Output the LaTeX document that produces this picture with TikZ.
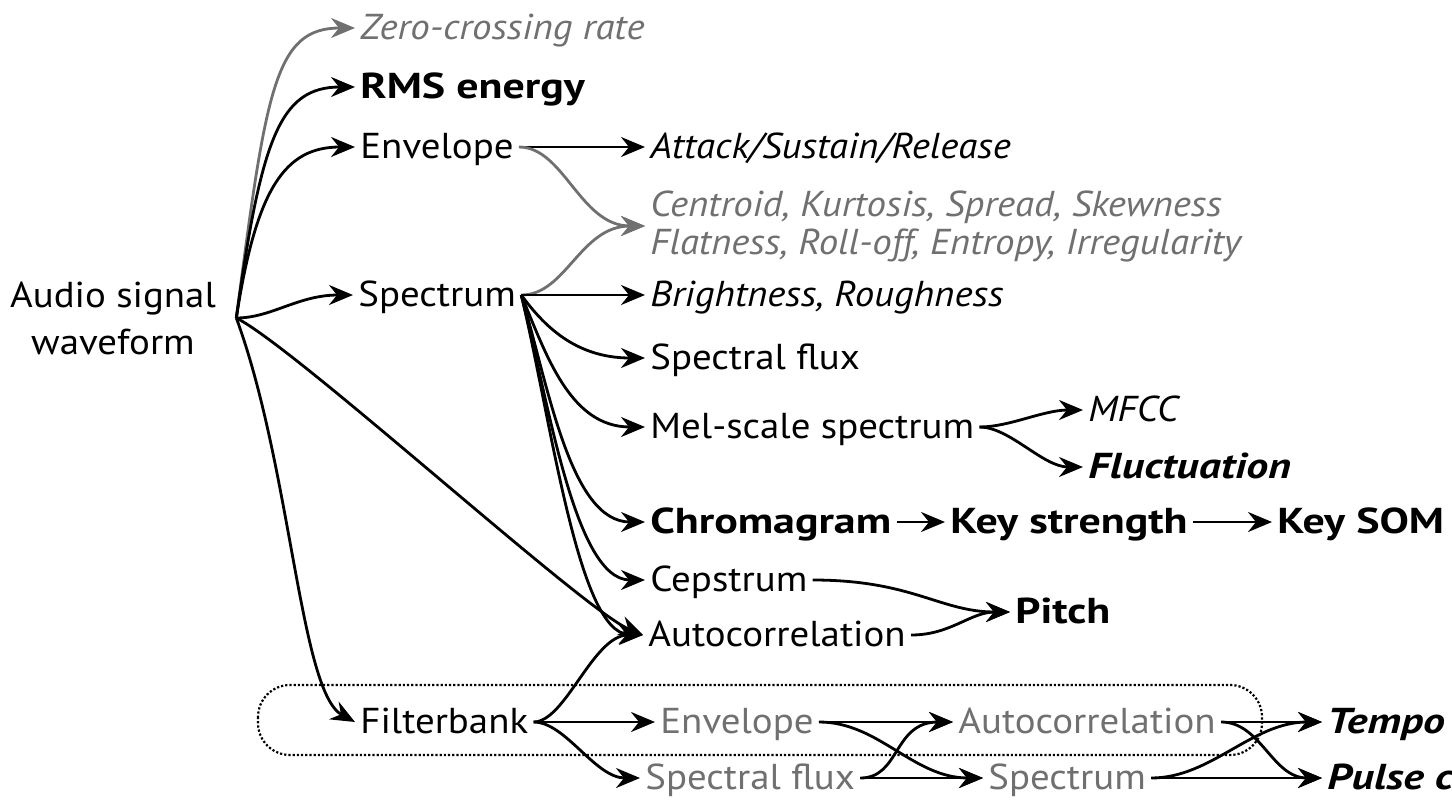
\documentclass[tikz,border=0pt]{standalone}
\usepackage{fontspec}
\setmainfont{PT Sans}[UprightFeatures={FakeStretch=1.08},ItalicFeatures={FakeStretch=1.08},BoldFeatures={FakeStretch=1.22},BoldItalicFeatures={FakeStretch=1.22}]
\usepackage{tikz}
\usetikzlibrary{positioning,arrows.meta}
\definecolor{fadegray}{RGB}{112,112,112}

\begin{document}
\begin{tikzpicture}[x=0.5pt,y=-0.5pt,
	every node/.style={anchor=west,inner sep=2.5pt,text height=15.3pt,text depth=3.6pt,font=\fontsize{18}{23.5}\selectfont},
	strong/.style={font=\fontsize{18}{23.5}\selectfont\bfseries},
	ital/.style={font=\fontsize{18}{23.5}\selectfont\itshape},
	boldital/.style={font=\fontsize{18}{23.5}\selectfont\bfseries\itshape},
	faded/.style={text=fadegray},
	link/.style={line width=1.4pt,-{Stealth[length=12pt,width=10pt,inset=4pt]}},
	fadelink/.style={link,draw=fadegray},
	group/.style={densely dotted,line width=1.1pt,rounded corners=16pt}]
		\path[use as bounding box,clip] (0,0) rectangle (1452,803);

		%filterbank group
		\draw[group] (258,685) rectangle (1262,755);

		%source node
		\node[anchor=center,align=center,inner xsep=10pt,text height=,text depth=] (n1) at (113,318) {Audio signal\\waveform};

		%first level nodes
		\node[faded,ital] (n2) at (355,28) {Zero-crossing rate};
		\node[strong] (n3) at (355,87) {RMS energy};
		\node (n4) at (355,147) {Envelope};
		\node (n5) at (353,295) {Spectrum};
		\node (n6) at (355,722) {Filterbank};

		%second level nodes
		\node[ital] (n7) at (645,147) {Attack/Sustain/Release};
		\node[faded,align=left,text height=,text depth=,font=\fontsize{18}{19}\selectfont\itshape] (n8) at (645,226) {Centroid, Kurtosis, Spread, Skewness\\Flatness, Roll-off, Entropy, Irregularity};
		\node[ital] (n9) at (645,295) {Brightness, Roughness};
		\node (n10) at (645,358) {Spectral flux};
		\node (n11) at (645,427) {Mel-scale spectrum};
		\node[strong] (n12) at (645,522) {Chromagram};
		\node (n13) at (645,580) {Cepstrum};
		\node (n14) at (643,635) {Autocorrelation};

		%third level nodes
		\node[ital] (n15) at (1083,410) {MFCC};
		\node[boldital] (n16) at (1083,467) {Fluctuation};
		\node[strong] (n17) at (945,522) {Key strength};
		\node[strong] (n18) at (1272,522) {Key SOM};
		\node[strong] (n19) at (1010,612) {Pitch};

		%filterbank nodes
		\node[faded] (n20) at (655,722) {Envelope};
		\node[faded] (n21) at (640,778) {Spectral flux};
		\node[faded] (n22) at (953,722) {Autocorrelation};
		\node[faded] (n23) at (983,778) {Spectrum};
		\node[boldital] (n24) at (1322,722) {Tempo};
		\node[boldital] (n25) at (1322,778) {Pulse clarity};

		%edges from the waveform
		\draw[fadelink] (n1.east) .. controls +(30,-230) and +(-80,0) .. (n2.west);
		\draw[link] (n1.east) .. controls +(25,-180) and +(-75,0) .. (n3.west);
		\draw[link] (n1.east) .. controls +(20,-130) and +(-70,0) .. (n4.west);
		\draw[link] (n1.east) .. controls +(35,0) and +(-55,0) .. (n5.west);
		\draw[link] (n1.east) .. controls +(55,150) and +(-55,-30) .. (n6.west);
		\draw[link] (n1.east) .. controls +(60,30) and +(-60,-25) .. (n14.west);

		%edges from envelope and spectrum
		\draw[link] (n4.east) -- (n7.west);
		\draw[fadelink] (n4.east) .. controls +(45,0) and +(-65,0) .. (n8.west);
		\draw[fadelink] (n5.east) .. controls +(45,0) and +(-65,0) .. (n8.west);
		\draw[link] (n5.east) -- (n9.west);
		\draw[link] (n5.east) .. controls +(22,30) and +(-70,0) .. (n10.west);
		\draw[link] (n5.east) .. controls +(25,60) and +(-75,0) .. (n11.west);
		\draw[link] (n5.east) .. controls +(27,90) and +(-75,0) .. (n12.west);
		\draw[link] (n5.east) .. controls +(28,110) and +(-70,0) .. (n13.west);
		\draw[link] (n5.east) .. controls +(30,125) and +(-65,-3) .. (n14.west);

		%edges of the third level
		\draw[link] (n11.east) .. controls +(30,0) and +(-40,0) .. (n15.west);
		\draw[link] (n11.east) .. controls +(30,0) and +(-40,0) .. (n16.west);
		\draw[link] (n12.east) -- (n17.west);
		\draw[link] (n17.east) -- (n18.west);
		\draw[link] (n13.east) .. controls +(100,0) and +(-70,0) .. (n19.west);
		\draw[link] (n14.east) .. controls +(40,0) and +(-40,0) .. (n19.west);

		%edges from the filterbank
		\draw[link] (n6.east) -- (n20.west);
		\draw[link] (n6.east) .. controls +(32,0) and +(-45,0) .. (n21.west);
		\draw[link] (n6.east) .. controls +(32,0) and +(-50,0) .. (n14.west);
		\draw[link] (n20.east) -- (n22.west);
		\draw[link] (n20.east) .. controls +(60,0) and +(-70,0) .. (n23.west);
		\draw[link] (n21.east) -- (n23.west);
		\draw[link] (n21.east) .. controls +(40,0) and +(-60,0) .. (n22.west);
		\draw[link] (n22.east) -- (n24.west);
		\draw[link] (n22.east) .. controls +(40,0) and +(-50,0) .. (n25.west);
		\draw[link] (n23.east) -- (n25.west);
		\draw[link] (n23.east) .. controls +(60,0) and +(-70,0) .. (n24.west);
	\end{tikzpicture}
\end{document}
